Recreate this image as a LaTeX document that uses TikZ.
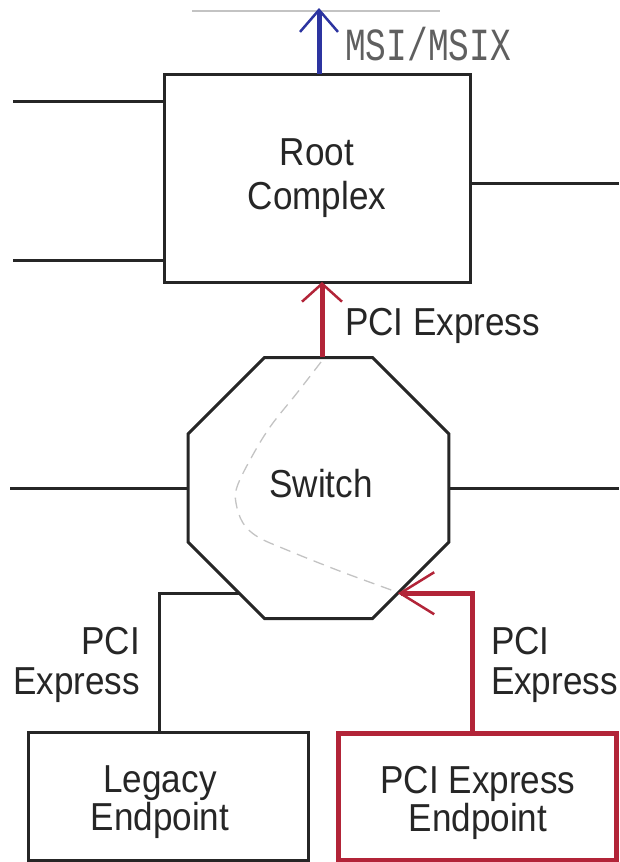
\documentclass[tikz,border=0pt]{standalone}
\usepackage{fontspec}
\setmainfont{Liberation Sans}
\newfontfamily\labfont{Liberation Sans}[FakeStretch=0.9]
\newfontfamily\msifont{Liberation Mono}[FakeStretch=0.75]
\usetikzlibrary{shapes.geometric,arrows.meta,calc}
\definecolor{pcired}{RGB}{178,36,56}
\definecolor{msiblue}{RGB}{44,52,160}
\definecolor{ink}{RGB}{38,38,38}
\definecolor{faint}{RGB}{195,195,195}
\definecolor{msigray}{RGB}{95,95,95}
\begin{document}
\begin{tikzpicture}[x=1pt,y=-1pt,
  wire/.style={draw=ink, line width=3pt},
  boxn/.style={draw=ink, line width=3pt, rectangle, inner sep=0pt, outer sep=0pt},
  redbox/.style={draw=pcired, line width=5pt, rectangle, inner sep=0pt, outer sep=0pt},
  lbl/.style={font=\labfont\fontsize{39}{40}\selectfont, text=ink, inner sep=0pt, outer sep=0pt},
  msilbl/.style={font=\msifont\fontsize{46}{46}\selectfont, text=msigray, inner sep=0pt},
  redlink/.style={draw=pcired, line width=5pt},
]
\useasboundingbox (0,0) rectangle (619,862);

% helper coordinates
\coordinate (rx) at (322,0);
\coordinate (bx) at (319,0);
\coordinate (rv) at (472,0);
\coordinate (lv) at (159,0);
\coordinate (msitop) at (319,8);
\coordinate (g1) at (192,11);
\coordinate (g2) at (440,11);
\coordinate (l1) at (13,101);
\coordinate (l2) at (13,260);
\coordinate (r1) at (619,183);
\coordinate (l3) at (10,488);
\coordinate (r3) at (619,488);

% nodes
\node[boxn, minimum width=306pt, minimum height=208pt, lbl, font=\labfont\fontsize{39}{44}\selectfont, align=center] (root) at (317,178) {Root\\Complex};
\node[draw=ink, line width=3pt, regular polygon, regular polygon sides=8, minimum size=282.5pt, inner sep=0pt, outer sep=0pt, font=\labfont\fontsize{39}{40}\selectfont, text=ink] (sw) at (318.5,488) {};
\node[lbl] (swtxt) at (321,484) {Switch};
\node[boxn, minimum width=280pt, minimum height=128pt] (legacy) at (168,796) {};
\node[redbox, minimum width=278pt, minimum height=127pt] (pcie) at (477,796.5) {};
\node[lbl, align=center, font=\labfont\fontsize{39}{38}\selectfont] (legtxt) at (160,802) {Legacy\\Endpoint};
\node[lbl, align=center, font=\labfont\fontsize{39}{38}\selectfont] (pcietxt) at (478,803) {PCI Express\\Endpoint};

% labels
\node[msilbl, anchor=base west] (msi) at (345,60) {MSI/MSIX};
\node[lbl, anchor=base west] (lk1) at (345,335) {PCI Express};
\node[lbl, align=right, anchor=north east] (lk2) at (140,627) {PCI\\Express};
\node[lbl, align=left, anchor=north west] (lk3) at (491,627) {PCI\\Express};

% side stubs
\draw[wire] (l1) -- (l1 -| root.west);
\draw[wire] (l2) -- (l2 -| root.west);
\draw[wire] (root.east |- r1) -- (r1);
\draw[wire] (l3) -- (sw.west);
\draw[wire] (sw.east) -- (r3);

% top faint line and MSI arrow
\draw[faint, line width=1.5pt] (g1) -- (g2);
\draw[msiblue, line width=5pt, -{Straight Barb[length=22pt,width=38pt,line width=2.5pt]}] (root.north -| bx) -- (msitop);

% dashed path inside switch
\draw[faint, line width=1.3pt, dash pattern=on 11pt off 7pt] plot[smooth, tension=0.6] coordinates {(321,362) (297,393) (270,427) (250,460) (237,487) (236,503) (243,523) (258,537) (287,550) (337,570) (383,587) (397,592)};

% legacy link
\draw[wire] (legacy.north -| lv) |- (sw.233);

% red links
\draw[redlink, -{Straight Barb[length=18pt,width=40pt,line width=2.5pt]}] (sw.north -| rx) -- (root.south -| rx);
\draw[redlink, -{Straight Barb[length=34pt,width=42pt,line width=2.5pt]}] (pcie.north -| rv) |- (sw.307);
\end{tikzpicture}
\end{document}
